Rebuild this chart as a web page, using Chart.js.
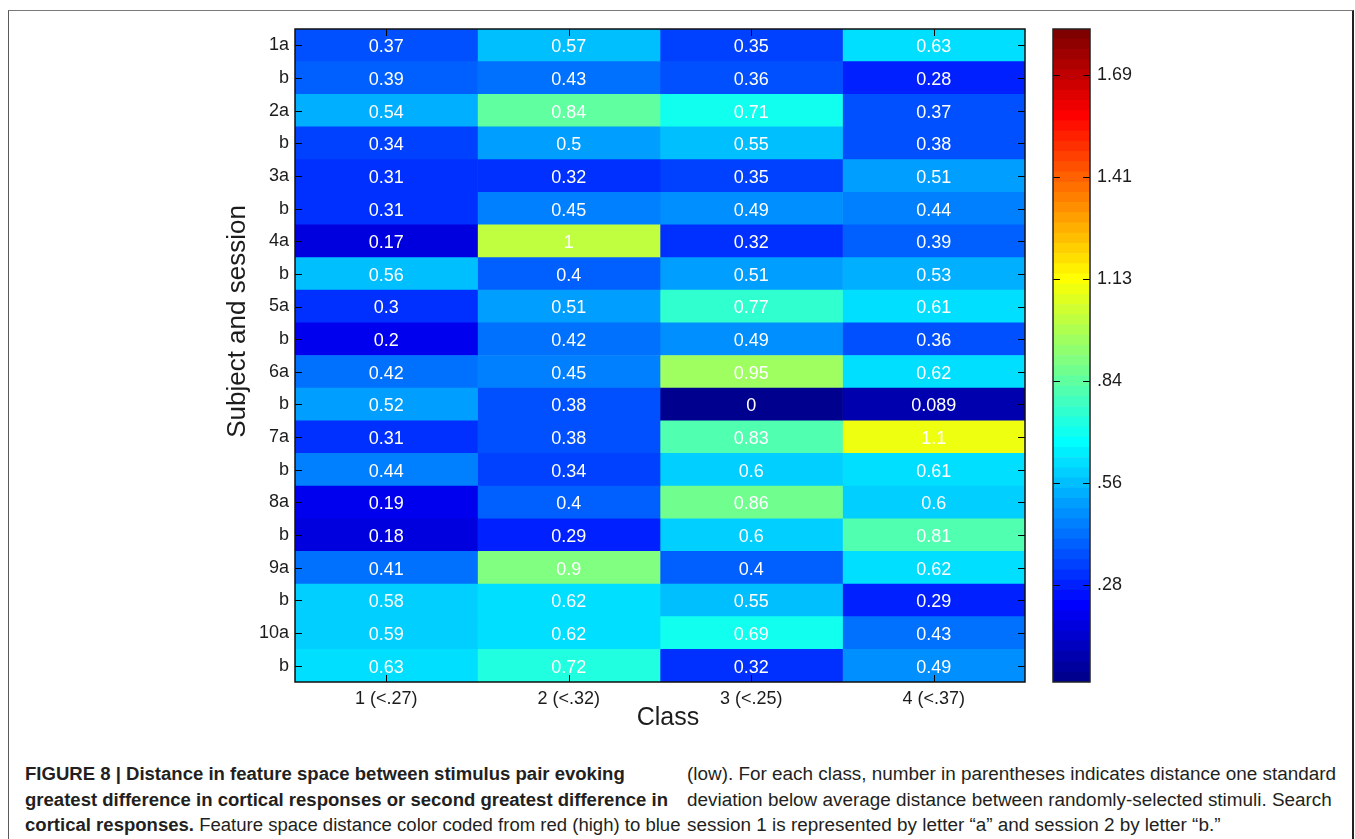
<!DOCTYPE html>
<html>
<head>
<meta charset="utf-8">
<script src="https://cdn.jsdelivr.net/npm/chart.js@4/dist/chart.umd.min.js"></script>
<style>
  html, body { margin: 0; padding: 0; background: #fff; }
  body { width: 1355px; height: 839px; position: relative; overflow: hidden; font-family: "Liberation Sans", Arial, sans-serif; }
  #frame { position: absolute; left: 8px; top: 10px; width: 1346px; height: 900px; box-sizing: border-box;
           border: 1px solid #5a5a5a; border-top-color: #7a7a7a; border-right: 2px solid #222; }
  #heat { position: absolute; left: 0; top: 0; }
  #cbar { position: absolute; left: 1040px; top: 0; }
  .col { position: absolute; top: 762px; transform-origin: 0 0; }
  .cap { font-family: "Liberation Sans Narrow", "Liberation Sans", Arial, sans-serif;
         font-size: 18px; line-height: 25.5px; white-space: nowrap; color: #231f20; }
  .cap b { font-weight: bold; }
</style>
</head>
<body>
<div id="frame"></div>
<canvas id="heat" width="1040" height="740"></canvas>
<canvas id="cbar" width="200" height="740"></canvas>

<div class="col" id="capL" data-w="643" style="left:25px">
  <div class="cap"><b>FIGURE 8 | Distance in feature space between stimulus pair evoking</b></div>
  <div class="cap fit"><b>greatest difference in cortical responses or second greatest difference in</b></div>
  <div class="cap"><b>cortical responses.</b> Feature space distance color coded from red (high) to blue</div>
</div>
<div class="col" id="capR" data-w="649" style="left:687px">
  <div class="cap fit">(low). For each class, number in parentheses indicates distance one standard</div>
  <div class="cap">deviation below average distance between randomly-selected stimuli. Search</div>
  <div class="cap">session 1 is represented by letter “a” and session 2 by letter “b.”</div>
</div>

<script>
// Rows: subject number + session (a = session 1, b = session 2)
const rowLabels = ['1a','b','2a','b','3a','b','4a','b','5a','b','6a','b','7a','b','8a','b','9a','b','10a','b'];
// Classes, with the one-SD-below-mean random distance in parentheses
const classLabels = ['1 (<.27)','2 (<.32)','3 (<.25)','4 (<.37)'];

// Feature-space distance per row, one array per class
const class1 = [0.37,0.39,0.54,0.34,0.31,0.31,0.17,0.56,0.3,0.2,0.42,0.52,0.31,0.44,0.19,0.18,0.41,0.58,0.59,0.63];
const class2 = [0.57,0.43,0.84,0.5,0.32,0.45,1,0.4,0.51,0.42,0.45,0.38,0.38,0.34,0.4,0.29,0.9,0.62,0.62,0.72];
const class3 = [0.35,0.36,0.71,0.55,0.35,0.49,0.32,0.51,0.77,0.49,0.95,0,0.83,0.6,0.86,0.6,0.4,0.55,0.69,0.32];
const class4 = [0.63,0.28,0.37,0.38,0.51,0.44,0.39,0.53,0.61,0.36,0.62,0.089,1.1,0.61,0.6,0.81,0.62,0.29,0.43,0.49];

// Colour bar limits and ticks
const colorMin = 0.014;
const colorMax = 1.816;
const colorTicks = [0.2815, 0.563, 0.8445, 1.126, 1.4075, 1.689];
const colorTickLabels = ['.28', '.56', '.84', '1.13', '1.41', '1.69'];

const yTitle = 'Subject and session';
const xTitle = 'Class';

const FONT = '"Liberation Sans", Arial, sans-serif';
const INK = '#1c1c1c';

// MATLAB-style jet colormap with n entries
function jet(n) {
  const m = n / 4;
  const u = [];
  for (let i = 1; i <= m; i++) u.push(i / m);
  for (let i = 1; i < m; i++) u.push(1);
  for (let i = m; i >= 1; i--) u.push(i / m);
  const g0 = Math.ceil(m / 2) - (n % 4 === 1 ? 1 : 0);
  const map = Array.from({ length: n }, () => [0, 0, 0]);
  u.forEach((val, k) => {
    const g = g0 + k + 1, r = g + m, b = g - m;
    if (r >= 1 && r <= n) map[r - 1][0] = val;
    if (g >= 1 && g <= n) map[g - 1][1] = val;
    if (b >= 1 && b <= n) map[b - 1][2] = val;
  });
  return map.map(c => `rgb(${Math.round(c[0] * 255)},${Math.round(c[1] * 255)},${Math.round(c[2] * 255)})`);
}
const NCOL = 64;
const palette = jet(NCOL);
function colorFor(v) {
  let i = Math.floor((v - colorMin) / (colorMax - colorMin) * NCOL);
  return palette[Math.max(0, Math.min(NCOL - 1, i))];
}

const TICK = 7;

// ---------- heat map ----------
const columns = [class1, class2, class3, class4];

const heatDecor = {
  id: 'heatDecor',
  afterDatasetsDraw(chart) {
    const { ctx, chartArea: a, scales: { x, y } } = chart;
    ctx.save();
    // cell values
    ctx.fillStyle = '#ffffff';
    ctx.font = '18px ' + FONT;
    ctx.textAlign = 'center';
    ctx.textBaseline = 'middle';
    chart.data.datasets.forEach((ds, di) => {
      chart.getDatasetMeta(di).data.forEach((bar, j) => {
        ctx.fillText(String(ds.cellValues[j]), (bar.x + bar.base) / 2, bar.y + 2);
      });
    });
    // inward tick marks on all four sides
    ctx.strokeStyle = '#000';
    ctx.lineWidth = 1;
    ctx.beginPath();
    y.ticks.forEach((t, i) => {
      const py = Math.round(y.getPixelForTick(i)) + 0.5;
      ctx.moveTo(a.left, py); ctx.lineTo(a.left + TICK, py);
      ctx.moveTo(a.right, py); ctx.lineTo(a.right - TICK, py);
    });
    x.ticks.forEach(t => {
      const px = Math.round(x.getPixelForValue(t.value)) + 0.5;
      ctx.moveTo(px, a.bottom); ctx.lineTo(px, a.bottom - TICK);
      ctx.moveTo(px, a.top); ctx.lineTo(px, a.top + TICK);
    });
    ctx.stroke();
    // axes box
    ctx.lineWidth = 1.5;
    ctx.strokeStyle = '#111';
    ctx.strokeRect(a.left, a.top, a.right - a.left, a.bottom - a.top);
    // axis titles
    ctx.fillStyle = INK;
    ctx.textAlign = 'center';
    ctx.textBaseline = 'middle';
    ctx.font = '25px ' + FONT;
    ctx.fillText(xTitle, (a.left + a.right) / 2 + 8, a.bottom + 36);
    ctx.font = '26px ' + FONT;
    ctx.translate(238, (a.top + a.bottom) / 2 - 34);
    ctx.rotate(-Math.PI / 2);
    ctx.fillText(yTitle, 0, 0);
    ctx.restore();
  }
};

new Chart(document.getElementById('heat'), {
  type: 'bar',
  data: {
    labels: rowLabels,
    datasets: columns.map((vals, c) => ({
      label: classLabels[c],
      data: vals.map(() => [c, c + 1]),
      cellValues: vals,
      backgroundColor: vals.map(colorFor),
      borderWidth: 0,
      barPercentage: 1,
      categoryPercentage: 1,
      grouped: false
    }))
  },
  options: {
    indexAxis: 'y',
    responsive: false,
    devicePixelRatio: 1,
    animation: false,
    events: [],
    layout: { padding: { top: 29, right: 15, left: 0, bottom: 0 } },
    plugins: { legend: { display: false }, tooltip: { enabled: false } },
    scales: {
      y: {
        type: 'category',
        grid: { display: false, drawTicks: false },
        border: { display: false },
        ticks: { font: { family: FONT, size: 18 }, color: INK, padding: 6, autoSkip: false },
        afterFit(s) { s.width = 295; }
      },
      x: {
        type: 'linear',
        min: 0,
        max: classLabels.length,
        grid: { display: false, drawTicks: false },
        border: { display: false },
        afterBuildTicks(s) { s.ticks = classLabels.map((_, i) => ({ value: i + 0.5 })); },
        ticks: {
          font: { family: FONT, size: 18 }, color: INK, padding: 6,
          maxRotation: 0, autoSkip: false,
          callback: (v, i) => classLabels[i]
        },
        afterFit(s) { s.height = 58; }
      }
    }
  },
  plugins: [heatDecor]
});

// ---------- colour bar ----------
const step = (colorMax - colorMin) / NCOL;

const barDecor = {
  id: 'barDecor',
  afterDatasetsDraw(chart) {
    const { ctx, chartArea: a, scales: { y } } = chart;
    ctx.save();
    ctx.strokeStyle = '#000';
    ctx.lineWidth = 1;
    ctx.beginPath();
    y.ticks.forEach(t => {
      const py = Math.round(y.getPixelForValue(t.value)) + 0.5;
      ctx.moveTo(a.left, py); ctx.lineTo(a.left + TICK, py);
      ctx.moveTo(a.right, py); ctx.lineTo(a.right - TICK, py);
    });
    ctx.stroke();
    ctx.lineWidth = 1.5;
    ctx.strokeStyle = '#222';
    ctx.strokeRect(a.left, a.top, a.right - a.left, a.bottom - a.top);
    ctx.restore();
  }
};

new Chart(document.getElementById('cbar'), {
  type: 'bar',
  data: {
    labels: [''],
    datasets: palette.map((col, i) => ({
      data: [[colorMin + i * step, colorMin + (i + 1) * step]],
      backgroundColor: col,
      borderWidth: 0,
      barPercentage: 1,
      categoryPercentage: 1,
      grouped: false
    }))
  },
  options: {
    responsive: false,
    devicePixelRatio: 1,
    animation: false,
    events: [],
    layout: { padding: { top: 29, bottom: 58, left: 13, right: 0 } },
    plugins: { legend: { display: false }, tooltip: { enabled: false } },
    scales: {
      x: { display: false },
      y: {
        position: 'right',
        min: colorMin,
        max: colorMax,
        grid: { display: false, drawTicks: false },
        border: { display: false },
        afterBuildTicks(s) { s.ticks = colorTicks.map(v => ({ value: v })); },
        ticks: {
          font: { family: FONT, size: 18 }, color: INK, padding: 7,
          callback: (v, i) => colorTickLabels[i]
        },
        afterFit(s) { s.width = 150; }
      }
    }
  },
  plugins: [barDecor]
});

// Condense each caption column so its widest line fills the column
function fitCaption() {
  document.querySelectorAll('.col').forEach(col => {
    col.style.transform = 'none';
    const ref = col.querySelector('.fit');
    const w = ref.getBoundingClientRect().width;
    col.style.transform = `scaleX(${parseFloat(col.dataset.w) / w})`;
  });
}
document.querySelectorAll('.cap').forEach(el => { el.style.display = 'block'; el.style.width = 'max-content'; });
fitCaption();
if (document.fonts && document.fonts.ready) document.fonts.ready.then(fitCaption);
</script>
</body>
</html>
